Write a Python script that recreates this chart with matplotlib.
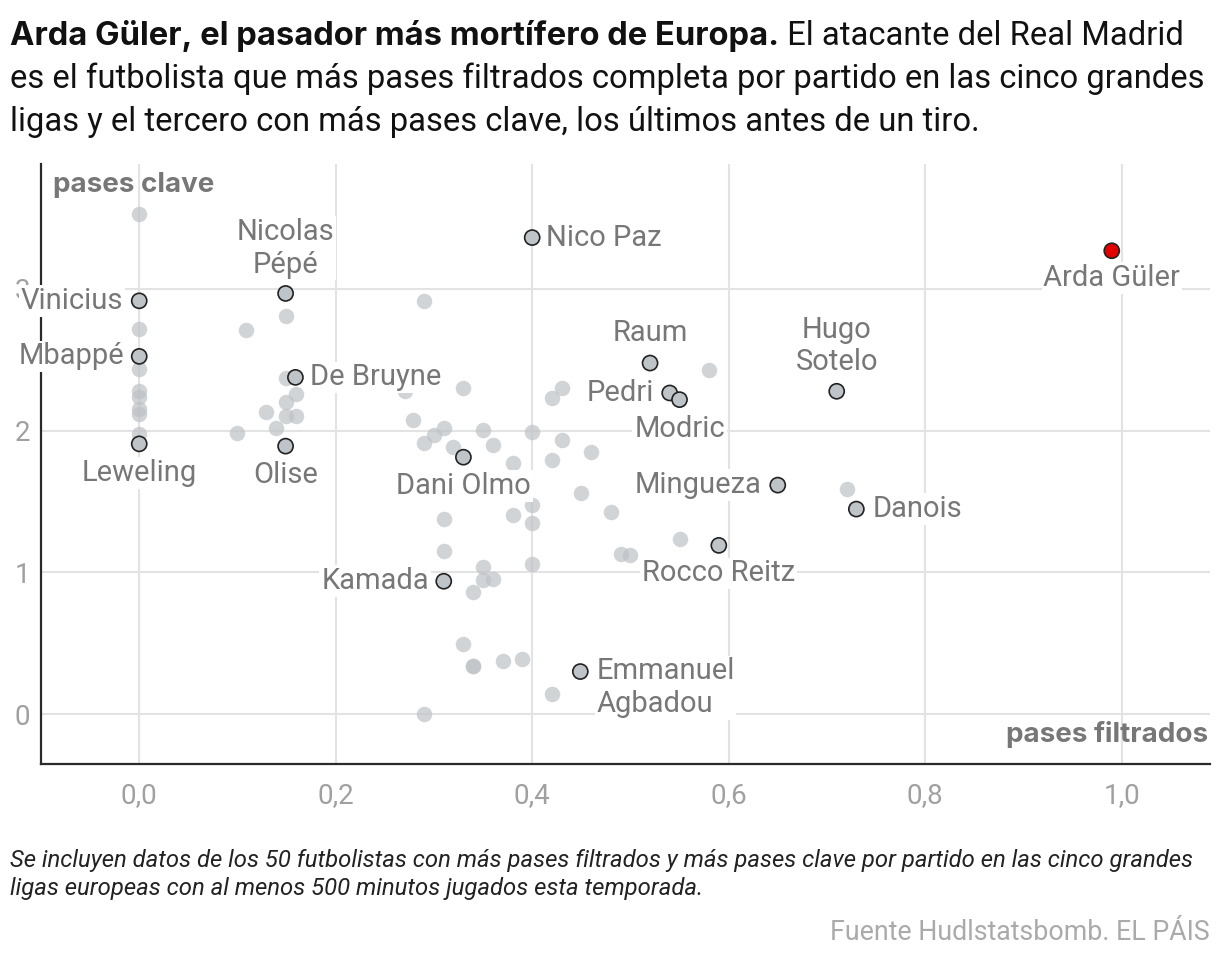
import matplotlib
matplotlib.use('Agg')
import matplotlib.pyplot as plt
from matplotlib.ticker import FuncFormatter, FixedLocator

FONT = 'Roboto'
plt.rcParams['font.family'] = [FONT, 'DejaVu Sans']
BOLD_FAMILY = ['Inter', 'Roboto', 'DejaVu Sans']

# ---------------- data ----------------
highlight_names = ['Vinicius', 'Mbappé', 'Leweling', 'Nicolas\nPépé', 'De Bruyne', 'Olise',
                   'Nico Paz', 'Raum', 'Pedri', 'Modric', 'Dani Olmo', 'Mingueza',
                   'Rocco Reitz', 'Kamada', 'Emmanuel\nAgbadou', 'Hugo\nSotelo', 'Danois',
                   'Arda Güler']
highlight_x = [0.00, 0.00, 0.00, 0.149, 0.159, 0.149, 0.400, 0.520, 0.540, 0.550, 0.330, 0.650,
               0.590, 0.310, 0.449, 0.710, 0.730, 0.990]
highlight_y = [2.915, 2.523, 1.906, 2.967, 2.375, 1.890, 3.361, 2.476, 2.265, 2.218, 1.812, 1.615,
               1.190, 0.937, 0.300, 2.277, 1.446, 3.268]
star_name = 'Arda Güler'

grey_x = [0.0, 0.0, 0.0, 0.0, 0.0, 0.0, 0.0, 0.0,
          0.149, 0.109, 0.149, 0.160, 0.149, 0.129, 0.149, 0.160, 0.139, 0.0995,
          0.290, 0.271,
          0.330, 0.420, 0.430, 0.279, 0.310, 0.300, 0.290, 0.319, 0.350, 0.360, 0.400, 0.430,
          0.460, 0.380, 0.420, 0.450, 0.400, 0.480, 0.380, 0.400, 0.310, 0.310, 0.490, 0.500,
          0.400, 0.350, 0.350, 0.360, 0.340,
          0.550, 0.330, 0.340, 0.340, 0.370, 0.390, 0.420, 0.290,
          0.580, 0.720]
grey_y = [3.526, 2.716, 2.434, 2.280, 2.235, 2.153, 2.118, 1.977,
          2.805, 2.709, 2.370, 2.258, 2.200, 2.129, 2.106, 2.106, 2.017, 1.981,
          2.915, 2.280,
          2.298, 2.230, 2.298, 2.077, 2.017, 1.970, 1.911, 1.887, 2.007, 1.899, 1.988, 1.930,
          1.852, 1.770, 1.789, 1.559, 1.477, 1.425, 1.401, 1.347, 1.378, 1.148, 1.132, 1.125,
          1.061, 1.037, 0.944, 0.951, 0.861,
          1.237, 0.493, 0.340, 0.340, 0.373, 0.392, 0.141, 0.002,
          2.427, 1.587]

x_ticks = [0.0, 0.2, 0.4, 0.6, 0.8, 1.0]
y_ticks = [0, 1, 2, 3]

title_bold = 'Arda Güler, el pasador más mortífero de Europa.'
title_rest = ' El atacante del Real Madrid'
title_lines = ['es el futbolista que más pases filtrados completa por partido en las cinco grandes',
               'ligas y el tercero con más pases clave, los últimos antes de un tiro.']
note_lines = ['Se incluyen datos de los 50 futbolistas con más pases filtrados y más pases clave por partido en las cinco grandes',
              'ligas europeas con al menos 500 minutos jugados esta temporada.']
source = 'Fuente Hudlstatsbomb. EL PÁIS'

# label placement (offset in px, ha)
label_place = {
    'Vinicius': (-16, 0, 'right'), 'Mbappé': (-15, 0, 'right'), 'Leweling': (0, -29, 'center'),
    'Nicolas\nPépé': (0, 45, 'center'), 'De Bruyne': (15, 0, 'left'), 'Olise': (0, -29, 'center'),
    'Nico Paz': (14, 0, 'left'), 'Raum': (0, 30, 'center'), 'Pedri': (-16, 0, 'right'),
    'Modric': (0, -29, 'center'), 'Dani Olmo': (0, -29, 'center'), 'Mingueza': (-16, 0, 'right'),
    'Rocco Reitz': (0, -28, 'center'), 'Kamada': (-15, 0, 'right'),
    'Emmanuel\nAgbadou': (16, -16, 'left'), 'Hugo\nSotelo': (0, 45, 'center'),
    'Danois': (16, 0, 'left'), 'Arda Güler': (0, -27, 'center'),
}

# ---------------- figure ----------------
W, H = 1220, 960
fig = plt.figure(figsize=(W / 100, H / 100), dpi=100)
ax = fig.add_axes([41 / W, 1 - 764 / H, (1210 - 41) / W, (764 - 164) / H])
ax.set_xlim(-0.1, 1.09)
ax.set_ylim(-0.352, 3.88)

ax.grid(True, color='#e3e3e3', linewidth=1.5, zorder=0)
ax.set_axisbelow(True)
for s in ['top', 'right']:
    ax.spines[s].set_visible(False)
for s in ['left', 'bottom']:
    ax.spines[s].set_color('#2a2a2a')
    ax.spines[s].set_linewidth(1.6)
ax.xaxis.set_major_locator(FixedLocator(x_ticks))
ax.yaxis.set_major_locator(FixedLocator(y_ticks))
ax.xaxis.set_major_formatter(FuncFormatter(lambda v, p: f'{v:.1f}'.replace('.', ',')))
ax.yaxis.set_major_formatter(FuncFormatter(lambda v, p: f'{int(v)}'))
ax.tick_params(axis='both', length=0, labelcolor='#a0a0a0', labelsize=20)
ax.tick_params(axis='x', pad=13)
ax.tick_params(axis='y', pad=8)

ax.scatter(grey_x, grey_y, s=125, color='#bec2c6', alpha=0.7, linewidths=0, zorder=2)

colors = ['#e30000' if n == star_name else '#bfc4c9' for n in highlight_names]
ax.scatter(highlight_x, highlight_y, s=118, c=colors, edgecolors='#222222', linewidths=1.2, zorder=4)

for n, x, y in zip(highlight_names, highlight_x, highlight_y):
    dx, dy, ha = label_place[n]
    ax.annotate(n, (x, y), xytext=(dx * 0.72, dy * 0.72), textcoords='offset points',
                ha=ha, va='center', fontsize=21, color='#777777', linespacing=1.2,
                bbox=dict(boxstyle='square,pad=0.06', fc='white', ec='none'),
                zorder=6, annotation_clip=False)

fig.text(53 / W, 1 - 185 / H, 'pases clave', fontsize=20, fontweight='bold', family=BOLD_FAMILY,
         color='#777777', ha='left', va='center')
fig.text(1208 / W, 1 - 735 / H, 'pases filtrados', fontsize=20, fontweight='bold', family=BOLD_FAMILY,
         color='#777777', ha='right', va='center')

# ---------------- title ----------------
fs_title = 23.6
t1 = fig.text(10 / W, 1 - 45 / H, title_bold, fontsize=fs_title, fontweight='bold', family=BOLD_FAMILY,
              color='#111111', ha='left', va='baseline')
fig.canvas.draw()
bb = t1.get_window_extent()
fig.text(bb.x1 / W, 1 - 45 / H, title_rest, fontsize=fs_title, color='#111111', ha='left', va='baseline')
for i, line in enumerate(title_lines):
    fig.text(10 / W, 1 - (88 + 43 * i) / H, line, fontsize=fs_title, color='#111111',
             ha='left', va='baseline')

for i, line in enumerate(note_lines):
    fig.text(10 / W, 1 - (867 + 28 * i) / H, line, fontsize=17.2, style='italic', color='#222222',
             ha='left', va='baseline')
fig.text(1210 / W, 1 - 940 / H, source, fontsize=19.3, color='#aaaaaa', ha='right', va='baseline')

fig.savefig('out.png', dpi=100)
